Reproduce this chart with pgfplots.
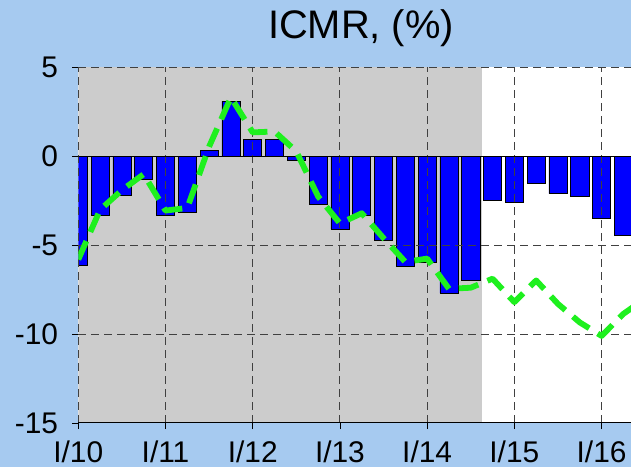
\documentclass[border=0pt]{standalone}
\usepackage{pgfplots}
\usepackage{pgfplotstable}
\pgfplotsset{compat=1.18}
\usepackage{fontspec}
\setmainfont{Liberation Sans}
\definecolor{bgblue}{RGB}{166,202,240}
\definecolor{shade}{RGB}{204,204,204}
\definecolor{barblue}{RGB}{0,0,255}
\definecolor{lime}{RGB}{30,240,30}
\pagecolor{bgblue}
\pgfplotstableread{
x bar
0 -6.1
1 -3.3
2 -2.2
3 -1.3
4 -3.3
5 -3.15
6 0.34
7 3.1
8 0.95
9 0.95
10 -0.23
11 -2.7
12 -4.1
13 -3.3
14 -4.7
15 -6.2
16 -5.95
17 -7.7
18 -6.95
19 -2.45
20 -2.6
21 -1.5
22 -2.1
23 -2.26
24 -3.5
25 -4.43
}\bardata
\pgfplotstableread{
x line
0 -5.8
1 -3.0
2 -1.9
3 -1.0
4 -3.05
5 -2.9
6 0.55
7 3.32
8 1.35
9 1.4
10 0.28
11 -2.26
12 -3.77
13 -3.2
14 -4.6
15 -5.94
16 -5.75
17 -7.45
18 -7.39
19 -6.88
20 -8.2
21 -6.98
22 -8.3
23 -9.34
24 -10.1
25 -8.86
26 -8.0
}\linedata
\begin{document}%
\begin{tikzpicture}
\node[anchor=base, font=\fontsize{40}{40}\selectfont, inner sep=0pt] at (361bp,428bp) {ICMR, (\%)};
\begin{axis}[
 axis on top, set layers=axis on top, clip mode=individual,
 at={(78.3bp,44bp)}, anchor=south west,
 scale only axis, width=552.7bp, height=355.5bp,
 xmin=0, xmax=25.35, ymin=-15, ymax=5,
 axis background/.style={fill=white},
 axis x line*=bottom, axis y line*=left,
 y axis line style={draw=none},
 x axis line style={black, line width=1bp, -},
 xtick={0,4,8,12,16,20,24},
 xticklabels={I/10,I/11,I/12,I/13,I/14,I/15,I/16},
 ytick={-15,-10,-5,0,5},
 yticklabels={-15,-10,-5,0,5},
 tick align=outside, major tick length=6bp,
 tick style={black, line width=0.8bp},
 xmajorgrids, ymajorgrids,
 major grid style={black!75, line width=1bp, dash pattern=on 8bp off 5bp},
 tick label style={font=\fontsize{30}{30}\selectfont, inner sep=0pt},
 xticklabel style={anchor=north, yshift=-12bp},
 yticklabel style={anchor=east, xshift=-14bp},
]
\addplot[fill=shade, draw=none] coordinates {(-1,-16) (18.52,-16) (18.52,6) (-1,6)} -- cycle;
\addplot[ybar, bar width=0.83, bar shift=0pt, fill=barblue, draw=black, line width=0.6bp] table[x=x, y=bar] {\bardata};
\addplot[on layer=axis foreground, black, line width=1.3bp] coordinates {(-1,0) (27,0)};
\addplot[on layer=axis foreground, lime, line width=5.8bp, dash pattern=on 20bp off 10bp, line join=round] table[x=x, y=line] {\linedata};
\end{axis}
\pgfresetboundingbox
\useasboundingbox (0,0) rectangle (631bp,467bp);
\end{tikzpicture}%
\end{document}
